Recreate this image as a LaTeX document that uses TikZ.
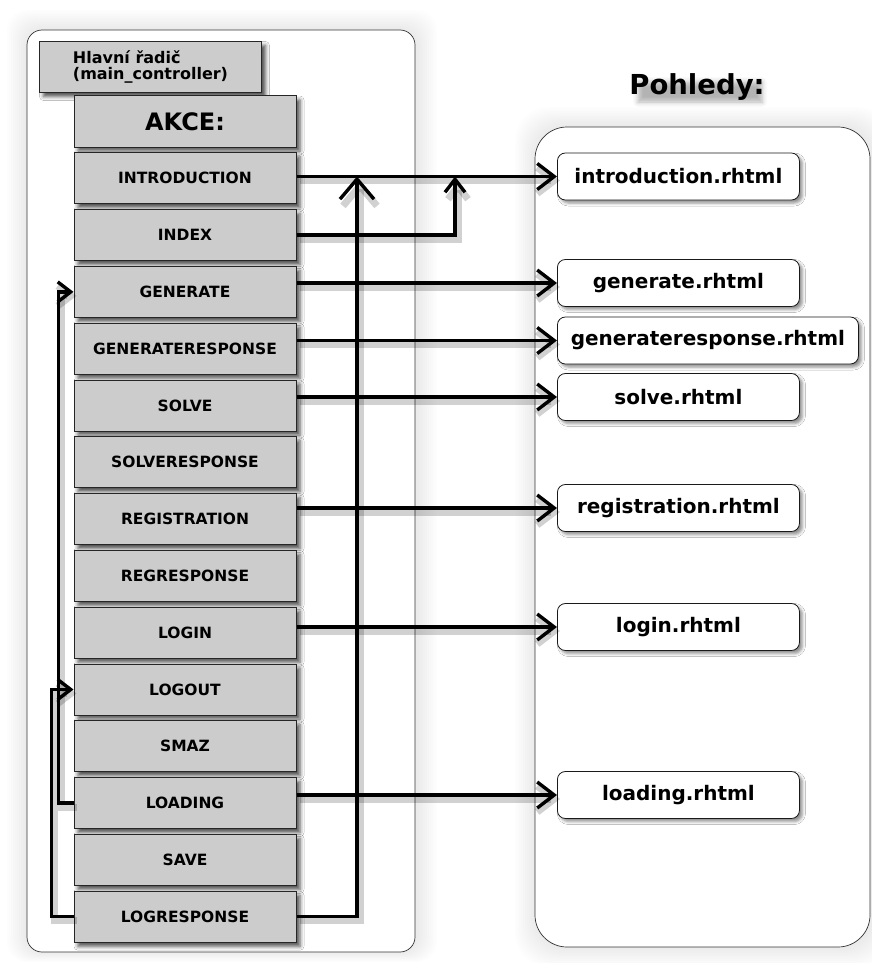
\documentclass[tikz,border=0pt]{standalone}
\usepackage{fontspec}
\setmainfont{DejaVu Sans}
\usetikzlibrary{arrows.meta,shadows.blur,calc}
\begin{document}
\begin{tikzpicture}[x=1pt,y=-1pt,
  boxshadow/.style={blur shadow={shadow xshift=4pt, shadow yshift=-4pt,
      shadow blur radius=4pt, shadow opacity=70}},
  act/.style={draw=black!85, line width=1pt, fill=black!20,
      minimum width=222pt, minimum height=51pt, inner sep=0pt,
      font=\bfseries\fontsize{15.5}{15.5}\selectfont, boxshadow},
  view/.style={draw=black!90, line width=0.8pt, fill=white, rounded corners=8pt,
      minimum width=242pt, minimum height=47pt, inner sep=0pt, anchor=west,
      font=\bfseries\fontsize{20}{20}\selectfont,
      blur shadow={shadow xshift=3pt, shadow yshift=-3pt,
        shadow blur radius=3pt, shadow opacity=45}},
  panel/.style={draw=black!80, line width=0.7pt, fill=white},
  link/.style={line width=3.4pt, line join=miter,
      preaction={draw=black, opacity=0.18, line width=7pt,
        transform canvas={shift={(3pt,-4pt)}}}},
  bigtip/.style={-{Straight Barb[length=17pt,width=26pt]}},
  hugetip/.style={-{Straight Barb[length=20pt,width=34pt]}},
  smalltip/.style={-{Straight Barb[length=13pt,width=20pt]}},
]
\useasboundingbox (0,0) rectangle (872,963);

% soft glow behind the two panels
\foreach \d in {2,4,...,20}{
  \fill[black, opacity=0.009, rounded corners=20pt]
    (27-\d,30-\d) rectangle (417+\d,952+\d*0.5);
  \fill[black, opacity=0.009, rounded corners=34pt]
    (535-\d,127-\d) rectangle (872+\d,947+\d);
}

% panels
\draw[panel, rounded corners=15pt] (27,30) rectangle (415,952);
\draw[panel, rounded corners=32pt] (535,127) rectangle (870,947);

% title of the views panel over a soft shadow
\node[minimum width=124pt, minimum height=20pt, inner sep=0pt,
  blur shadow={shadow xshift=3pt, shadow yshift=-4pt,
    shadow blur radius=5pt, shadow opacity=30}] (titleshadow) at (697,88) {};
\node[font=\bfseries\fontsize{27.5}{27.5}\selectfont] (title) at (697,87) {Pohledy:};

% controller and actions
\node[act, align=left, anchor=north west,
  font=\bfseries\fontsize{16}{16.5}\selectfont] (ctrl) at (39,41)
  {Hlavní řadič\\(main\_controller)};
\node[act, font=\bfseries\fontsize{24}{24}\selectfont] (akce) at (185,121.5) {AKCE:};
\node[act] (intro)   at (185,178.3) {INTRODUCTION};
\node[act] (index)   at (185,235.1) {INDEX};
\node[act] (gen)     at (185,291.9) {GENERATE};
\node[act] (genresp) at (185,348.7) {GENERATERESPONSE};
\node[act] (solve)   at (185,405.5) {SOLVE};
\node[act] (solresp) at (185,462.3) {SOLVERESPONSE};
\node[act] (reg)     at (185,519.1) {REGISTRATION};
\node[act] (regresp) at (185,575.9) {REGRESPONSE};
\node[act] (login)   at (185,632.7) {LOGIN};
\node[act] (logout)  at (185,689.5) {LOGOUT};
\node[act] (smaz)    at (185,746.3) {SMAZ};
\node[act] (loading) at (185,803.1) {LOADING};
\node[act] (save)    at (185,859.9) {SAVE};
\node[act] (logresp) at (185,916.7) {LOGRESPONSE};

% views
\node[view] (vintro)   at (557,176.5) {introduction.rhtml};
\node[view] (vgen)     at (557,283)   {generate.rhtml};
\node[view, minimum width=301pt] (vgenresp) at (557,340.5) {generateresponse.rhtml};
\node[view] (vsolve)   at (557,397)   {solve.rhtml};
\node[view] (vreg)     at (557,508)   {registration.rhtml};
\node[view] (vlogin)   at (557,627)   {login.rhtml};
\node[view] (vloading) at (557,795)   {loading.rhtml};

% junction columns
\coordinate (jlog)   at (357,0);
\coordinate (jindex) at (455,0);

% connectors from actions to views
\draw[link, bigtip] (vintro.west -| intro.east) -- (vintro.west);
\draw[link, bigtip] (vgen.west -| gen.east) -- (vgen.west);
\draw[link, bigtip] (vgenresp.west -| genresp.east) -- (vgenresp.west);
\draw[link, bigtip] (vsolve.west -| solve.east) -- (vsolve.west);
\draw[link, bigtip] (vreg.west -| reg.east) -- (vreg.west);
\draw[link, bigtip] (vlogin.west -| login.east) -- (vlogin.west);
\draw[link, bigtip] (vloading.west -| loading.east) -- (vloading.west);

% redirects joining the introduction line
\draw[link, smalltip] (index.east) -| (jindex |- vintro.west);
\draw[link, hugetip] (logresp.east) -| (jlog |- vintro.west);

% redirects between actions
\draw[link, smalltip] (loading.west) -- ++(-15,0) |- (gen.west);
\draw[link, smalltip] (logresp.west) -- ++(-22,0) |- (logout.west);
\end{tikzpicture}
\end{document}
